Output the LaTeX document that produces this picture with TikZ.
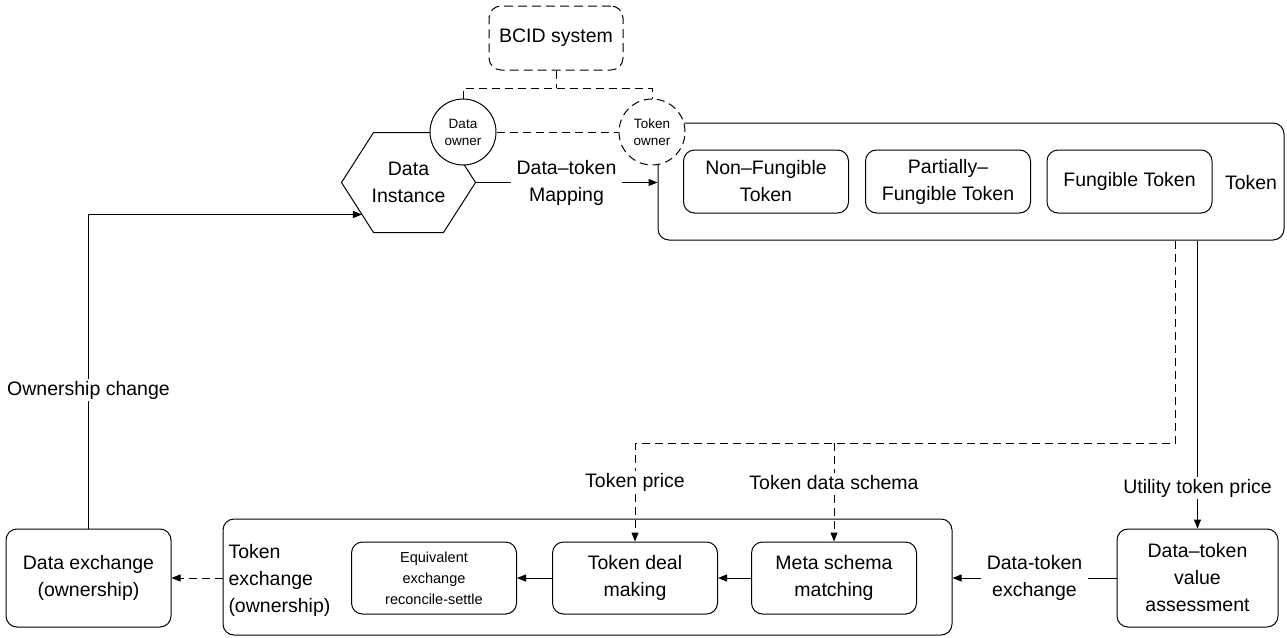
\documentclass[tikz,border=0pt]{standalone}
\usepackage{fontspec}
\setmainfont{Liberation Sans}
\usetikzlibrary{arrows.meta,calc}

\begin{document}
\begin{tikzpicture}[x=1pt,y=-1pt,line width=1pt,
  every node/.style={font=\fontsize{19.5}{27}\selectfont,align=center,inner sep=0pt},
  box/.style={draw,rounded corners=11pt},
  dbox/.style={draw,rounded corners=12pt,dash pattern=on 9pt off 5pt},
  owner/.style={draw,circle,fill=white,minimum size=66pt,font=\fontsize{13.5}{17}\selectfont},
  small/.style={font=\fontsize{14.5}{21}\selectfont},
  arr/.style={-{Triangle[length=9pt,width=7pt]}},
  dsh/.style={dash pattern=on 8pt off 5pt},
  gap/.style={fill=white,inner xsep=9pt,inner ysep=2pt}]
\useasboundingbox (0,0) rectangle (1287,637);

% --- identity system and its two owner roles
\node[dbox,minimum width=134pt,minimum height=64pt] (bcid) at (556,38) {BCID system};
\coordinate (bj) at (556,88);

% --- data instance (hexagon)
\node[minimum width=133pt,minimum height=99pt] (inst) at (408.5,182.5) {Data\\Instance};
\draw (inst.west) -- ([xshift=32pt]inst.north west) -- ([xshift=-32pt]inst.north east)
  -- (inst.east) -- ([xshift=-32pt]inst.south east) -- ([xshift=32pt]inst.south west) -- cycle;
\coordinate (hexin) at ($(inst.west)!0.64!([xshift=32pt]inst.south west)$);

% --- token container with its three kinds
\node[box,minimum width=626pt,minimum height=117pt] (token) at (971,181.5) {};
\node (toklbl) at (1251,183) {Token};
\node[box,minimum width=165pt,minimum height=63pt] (nft) at (766,181.5) {Non–Fungible\\Token};
\node[box,minimum width=165pt,minimum height=63pt] (pft) at (948,181.5) {Partially–\\Fungible Token};
\node[box,minimum width=165pt,minimum height=63pt] (ft) at (1129.5,181.5) {Fungible Token};

% --- owner circles drawn over the shapes they sit on
\node[owner] (downer) at (463,132) {Data\\owner};
\node[owner,dsh] (towner) at (652,132) {Token\\owner};

\draw[dsh] (bcid.south) -- (bj);
\draw[dsh] (downer.north) |- (bj) -| (towner.north);
\draw[dsh] (downer.east) -- (towner.west);

\draw[arr] (inst.east) -- node[gap,inner xsep=6pt]{Data–token\\Mapping} (inst.east -| token.west);

% --- exchange stage
\node[box,minimum width=729pt,minimum height=116pt] (exch) at (587.5,577) {};
\node[anchor=west,align=left] (exlbl) at (228,580) {Token\\exchange\\(ownership)};
\node[box,small,minimum width=165pt,minimum height=72pt] (equiv) at (434,578) {Equivalent\\exchange\\reconcile-settle};
\node[box,minimum width=165pt,minimum height=72pt] (deal) at (635,578) {Token deal\\making};
\node[box,minimum width=165pt,minimum height=72pt] (meta) at (834,578) {Meta schema\\matching};
\node[box,minimum width=161pt,minimum height=98pt] (dtv) at (1197.5,578) {Data–token\\value\\assessment};
\node[box,minimum width=165pt,minimum height=98pt] (dx) at (88.5,578) {Data exchange\\(ownership)};

\coordinate (bus) at (1175,443);

% --- token information flowing down to the exchange
\draw[dsh,arr] ([xshift=-22.5pt]token.south -| dtv.north) |- (deal.north |- bus)
  -- node[gap,pos=0.4,inner xsep=4pt]{Token price} (deal.north);
\draw[dsh,arr] (meta.north |- bus) -- node[gap,pos=0.4,inner xsep=4pt]{Token data schema} (meta.north);
\draw[arr] (token.south -| dtv.north) -- node[gap,pos=0.86,inner xsep=4pt]{Utility token price} (dtv.north);

% --- flow along the exchange stage
\draw[arr] (dtv.west) -- node[gap,inner xsep=6pt]{Data-token\\exchange} (exch.east |- dtv.west);
\draw[arr] (meta.west) -- (deal.east);
\draw[arr] (deal.west) -- (equiv.east);
\draw[dsh,arr] (exch.west |- dx.east) -- (dx.east);

% --- ownership returns to the data instance
\draw[arr] (dx.north) |- node[gap,pos=0.22,inner xsep=3pt]{Ownership change} (hexin);
\end{tikzpicture}
\end{document}
